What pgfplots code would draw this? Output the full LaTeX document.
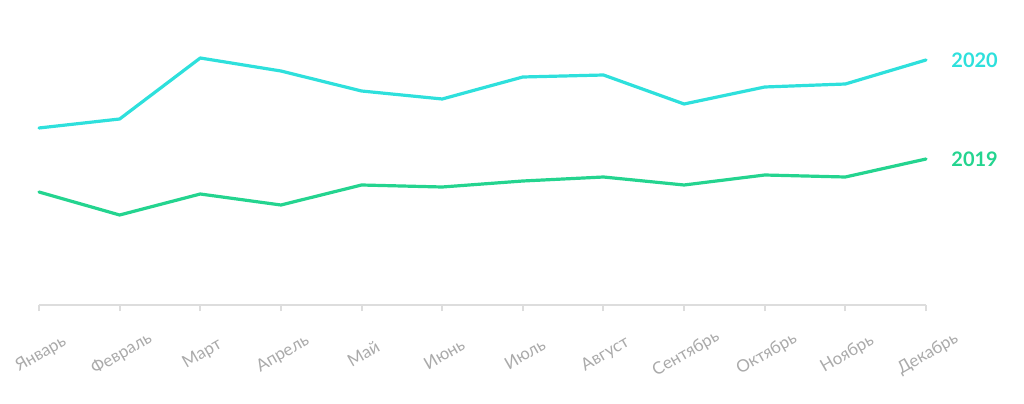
\documentclass[border=0pt]{standalone}
\usepackage{fontspec}
\setmainfont{Lato}
\usepackage{pgfplots}
\pgfplotsset{compat=1.18}

\definecolor{c2020}{HTML}{2EE0DC}
\definecolor{c2019}{HTML}{24D48F}
\definecolor{axisgray}{HTML}{DDDDDD}
\definecolor{labgray}{HTML}{AAAAAA}

\begin{document}
\begin{tikzpicture}
% 1 px of the reference = 0.5pt
\path[use as bounding box] (-19.5pt,-49pt) rectangle (492.5pt,152.5pt);
\begin{axis}[
    at={(0,0)}, anchor=south west,
    scale only axis,
    width=443.5pt, height=152.5pt,
    xmin=0, xmax=11, ymin=0, ymax=305,
    clip=false,
    axis y line=none,
    axis x line*=bottom,
    x axis line style={axisgray, line width=1pt},
    xtick={0,...,11},
    xticklabels={Январь,Февраль,Март,Апрель,Май,Июнь,Июль,Август,Сентябрь,Октябрь,Ноябрь,Декабрь},
    tick align=outside,
    major tick length=3pt,
    tick style={axisgray, line width=1pt},
    xticklabel style={yshift=-21.5pt, xshift=1pt, rotate=30, anchor=center, font=\fontsize{8.5}{10}\selectfont, text=labgray},
]
\addplot[c2020, line width=1.6pt, line join=round, line cap=round] coordinates {
    (0,177) (1,186) (2,247) (3,234) (4,214) (5,206)
    (6,228) (7,230) (8,201) (9,218) (10,221) (11,245)
};
\addplot[c2019, line width=1.6pt, line join=round, line cap=round] coordinates {
    (0,113) (1,90) (2,111) (3,100) (4,120) (5,118)
    (6,124) (7,128) (8,120) (9,130) (10,128) (11,146)
};
\node[anchor=west, inner sep=0pt, xshift=12.5pt, text=c2020, font=\bfseries\fontsize{10}{12}\selectfont] at (axis cs:11,245) {2020};
\node[anchor=west, inner sep=0pt, xshift=12.5pt, text=c2019, font=\bfseries\fontsize{10}{12}\selectfont] at (axis cs:11,146) {2019};
\end{axis}
\end{tikzpicture}
\end{document}
